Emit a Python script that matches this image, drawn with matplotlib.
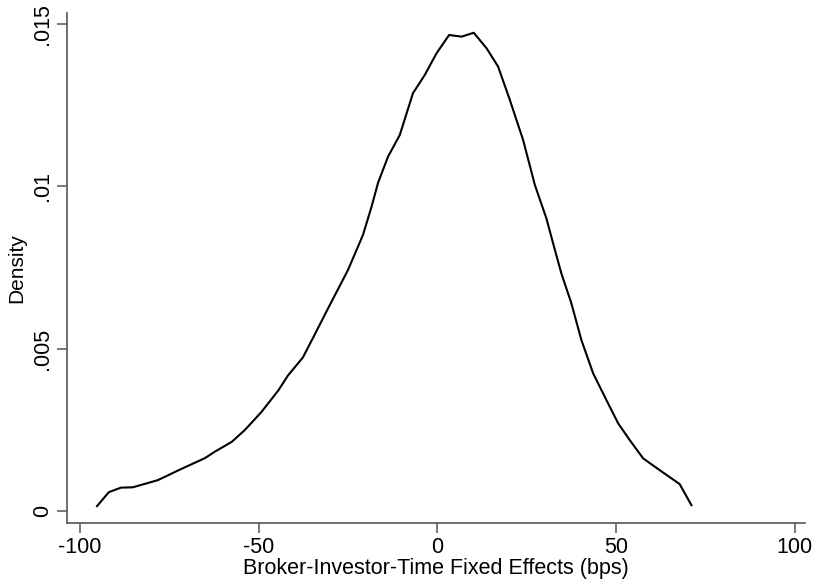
import numpy as np
import matplotlib
matplotlib.use("Agg")
import matplotlib.pyplot as plt

plt.rcParams["font.family"] = ["Liberation Sans", "DejaVu Sans"]

# kernel density estimate (bps, density)
fe_bps = [-95.2, -91.9, -88.5, -85.2, -78.2, -72.3, -65.0, -62.2, -57.5, -53.8,
          -49.2, -44.5, -41.8, -37.6, -34.5, -30.8, -25.0, -20.8, -18.4, -16.6,
          -13.8, -10.5, -6.8, -3.5, -0.2, 3.3, 6.8, 10.2, 13.8, 17.0,
          20.3, 24.0, 27.3, 30.5, 32.9, 34.7, 37.5, 40.3, 43.6, 47.3,
          50.6, 53.8, 57.6, 62.2, 67.8, 71.1]
density = [0.00015, 0.00058, 0.00072, 0.00073, 0.00095, 0.00126, 0.00163, 0.00183, 0.00213, 0.00250,
           0.00305, 0.00371, 0.00417, 0.00473, 0.00539, 0.00619, 0.00742, 0.00850, 0.00937, 0.01010,
           0.01091, 0.01158, 0.01287, 0.01343, 0.01410, 0.01466, 0.01461, 0.01473, 0.01425, 0.01369,
           0.01266, 0.01143, 0.01004, 0.00902, 0.00804, 0.00732, 0.00640, 0.00527, 0.00424, 0.00342,
           0.00270, 0.00219, 0.00162, 0.00126, 0.00083, 0.00018]

x_ticks = [-100, -50, 0, 50, 100]
x_labels = ["-100", "-50", "0", "50", "100"]
y_ticks = [0, 0.005, 0.01, 0.015]
y_labels = ["0", ".005", ".01", ".015"]

fig = plt.figure(figsize=(8.17, 5.88), dpi=100)
ax = fig.add_axes([0.082, 0.1105, 0.903, 0.8675])
ax.plot(fe_bps, density, color="black", lw=1.5)

ax.set_xlim(-103.6, 102.8)
ax.set_ylim(-0.00037, 0.01534)
ax.set_xticks(x_ticks)
ax.set_xticklabels(x_labels)
ax.set_yticks(y_ticks)
ax.set_yticklabels(y_labels, rotation=90, va="center")

for side in ("top", "right"):
    ax.spines[side].set_visible(False)
for side in ("left", "bottom"):
    ax.spines[side].set_color("#555555")
    ax.spines[side].set_linewidth(1.2)
ax.tick_params(direction="out", length=7, width=1.1, color="#555555",
               labelsize=15.5, pad=3)

ax.set_xlabel("Broker-Investor-Time Fixed Effects (bps)", fontsize=15.5, labelpad=0)
ax.set_ylabel("Density", fontsize=15, labelpad=4)

fig.savefig("out.png", dpi=100)
